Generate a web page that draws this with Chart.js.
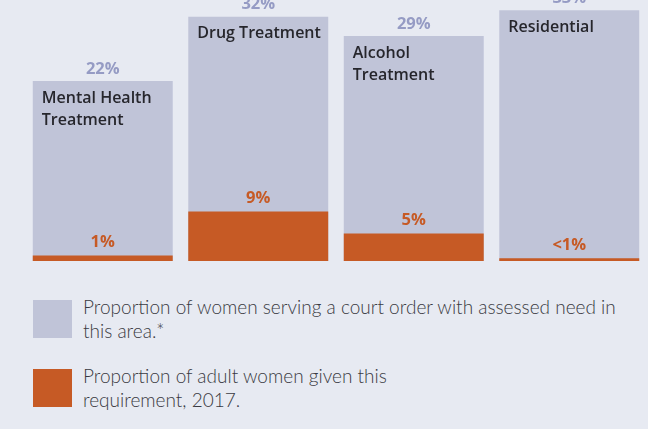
<!DOCTYPE html>
<html>
<head>
<meta charset="utf-8">
<script src="https://cdn.jsdelivr.net/npm/chart.js@4.4.1/dist/chart.umd.min.js"></script>
<style>
  html, body { margin: 0; padding: 0; background: #e7eaf2; }
  body { width: 648px; height: 429px; overflow: hidden; position: relative; font-family: "Open Sans", sans-serif; }
  #wrap { position: absolute; left: 0; top: 0; width: 648px; height: 261px; }
  .legend { position: absolute; left: 33px; display: flex; align-items: flex-start; }
  .swatch { width: 39px; height: 38px; flex: none; }
  .legend span { margin-left: 11px; margin-top: -5px; font-family: Lato, sans-serif; font-weight: 300; font-size: 19px; line-height: 24px; color: #3a3a42; }
</style>
</head>
<body>
<div id="wrap"><canvas id="chart"></canvas></div>
<div class="legend" style="top:300px"><div class="swatch" style="background:#c0c4d8"></div><span>Proportion of women serving a court order with assessed need in<br>this area.*</span></div>
<div class="legend" style="top:369px"><div class="swatch" style="background:#c65a25"></div><span>Proportion of adult women given this<br>requirement, 2017.</span></div>
<script>
const categories = [['Mental Health', 'Treatment'], ['Drug Treatment'], ['Alcohol', 'Treatment'], ['Residential']];
const needValues = [22, 32, 29, 33];
const needLabels = ['22%', '32%', '29%', '33%'];
const givenValues = [1, 9, 5, 0.5];
const givenLabels = ['1%', '9%', '5%', '<1%'];

const GREY = '#c0c4d8';
const ORANGE = '#c65a25';

// value labels above each bar + category names inside grey bars
const barText = {
    id: 'barText',
    afterDatasetsDraw(chart) {
        const ctx = chart.ctx;
        const grey = chart.getDatasetMeta(0).data;
        const orange = chart.getDatasetMeta(1).data;
        ctx.save();
        ctx.textAlign = 'center';
        ctx.textBaseline = 'middle';
        ctx.font = '700 16.5px "Open Sans"';
        grey.forEach((bar, i) => {
            ctx.fillStyle = '#959bc4';
            ctx.fillText(needLabels[i], bar.x, bar.y - 12);
        });
        orange.forEach((bar, i) => {
            ctx.fillStyle = ORANGE;
            ctx.fillText(givenLabels[i], bar.x, bar.y - 13);
        });
        ctx.textAlign = 'left';
        ctx.fillStyle = '#26262c';
        ctx.font = '600 16px "Open Sans"';
        grey.forEach((bar, i) => {
            const left = bar.x - bar.width / 2 + 9;
            categories[i].forEach((line, j) => {
                ctx.fillText(line, left, bar.y + 17 + j * 22);
            });
        });
        ctx.restore();
    }
};

new Chart(document.getElementById('chart'), {
    type: 'bar',
    data: {
        labels: categories.map(c => c.join(' ')),
        datasets: [
            { data: needValues, backgroundColor: GREY, yAxisID: 'y', base: -6, barPercentage: 0.9, categoryPercentage: 1, grouped: false, order: 2 },
            { data: givenValues, backgroundColor: ORANGE, yAxisID: 'y2', barPercentage: 0.9, categoryPercentage: 1, grouped: false, order: 1 }
        ]
    },
    options: {
        responsive: true,
        maintainAspectRatio: false,
        animation: false,
        layout: { padding: { left: 25, right: 1, top: 0, bottom: 0 } },
        plugins: { legend: { display: false }, tooltip: { enabled: false } },
        scales: {
            x: { display: false },
            y: { display: false, min: -6, max: 34.6 },
            y2: { display: false, min: 0, max: 47.5 }
        }
    },
    plugins: [barText]
});
</script>
</body>
</html>
